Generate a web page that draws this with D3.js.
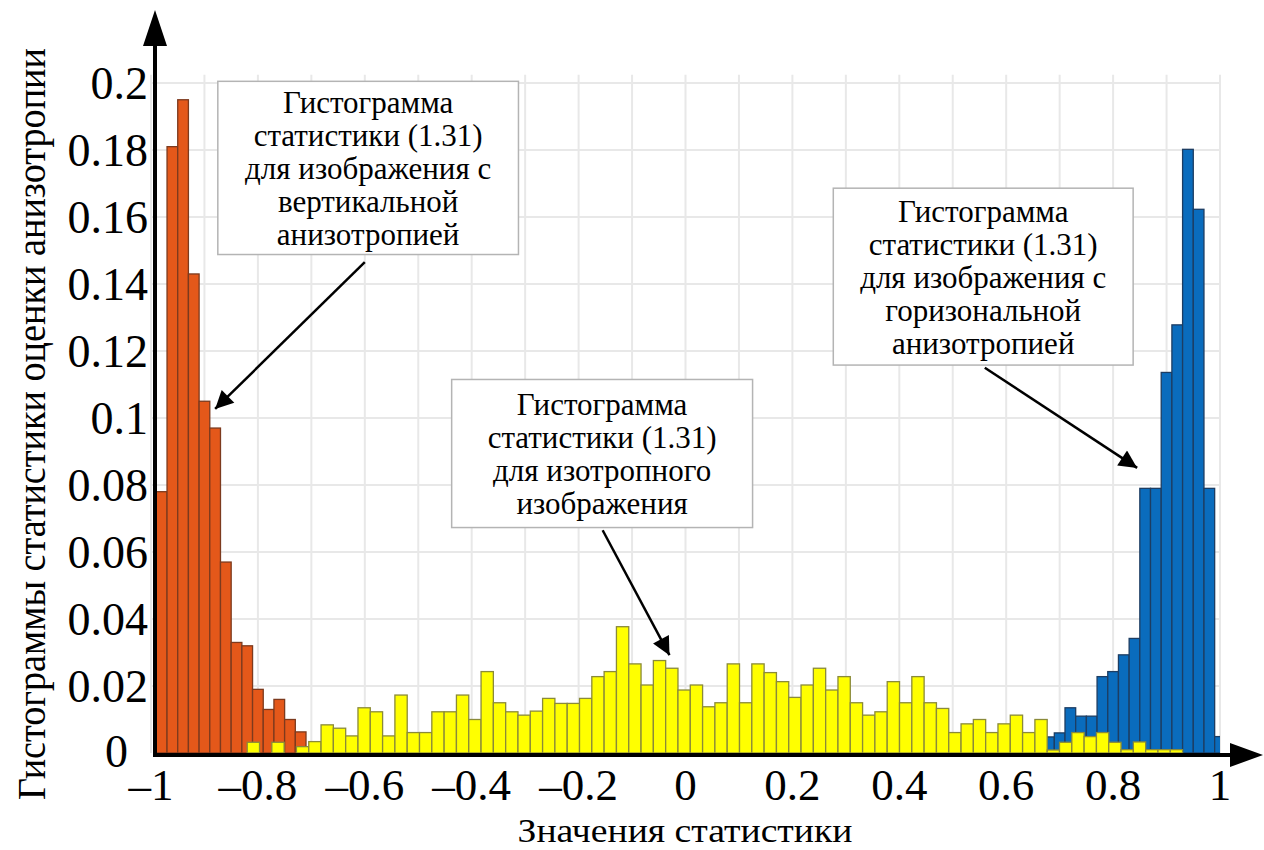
<!DOCTYPE html>
<html lang="ru">
<head>
<meta charset="utf-8">
<script src="https://cdn.jsdelivr.net/npm/d3@7"></script>
<style>
  html, body { margin: 0; padding: 0; background: #fff; }
  svg { display: block; }
  text { font-family: "Liberation Serif", "Times New Roman", serif; fill: #000; }
</style>
</head>
<body>
<svg id="chart" width="1264" height="850"></svg>
<script>
// ---- data ----
const xTicks = [-1, -0.8, -0.6, -0.4, -0.2, 0, 0.2, 0.4, 0.6, 0.8, 1];
const yTicks = [0, 0.02, 0.04, 0.06, 0.08, 0.1, 0.12, 0.14, 0.16, 0.18, 0.2];

// vertical anisotropy histogram (bins of 0.02 starting at -0.99)
const verticalStart = -0.99;
const verticalWidth = 0.02;
const verticalValues = [0.078, 0.181, 0.195, 0.143, 0.105, 0.097, 0.057, 0.033,
  0.032, 0.019, 0.013, 0.016, 0.010, 0.0063];

// horizontal anisotropy histogram (bins of 0.02 starting at 0.67)
const horizontalStart = 0.67;
const horizontalWidth = 0.02;
const horizontalValues = [0.0048, 0.006, 0.0135, 0.011, 0.011, 0.0228, 0.0243,
  0.0293, 0.0342, 0.079, 0.079, 0.1136, 0.1278, 0.1802, 0.1623, 0.079, 0.0049];

// isotropic image histogram (76 bins over [-0.82, 0.93])
const isotropicStart = -0.82;
const isotropicWidth = 1.75 / 76;
const isotropicValues = [0.0032, 0, 0.0032, 0, 0.0019, 0.0034, 0.0084, 0.0074,
  0.0051, 0.0135, 0.0123, 0.0051, 0.0173, 0.0061, 0.0061, 0.0123, 0.0123, 0.0173,
  0.0100, 0.0243, 0.0150, 0.0123, 0.0113, 0.0125, 0.0163, 0.0148, 0.0148, 0.0163,
  0.0228, 0.0243, 0.0377, 0.0266, 0.0203, 0.0276, 0.0253, 0.0188, 0.0203, 0.0138,
  0.0150, 0.0266, 0.0150, 0.0266, 0.0240, 0.0213, 0.0166, 0.0203, 0.0253, 0.0188,
  0.0228, 0.0150, 0.0113, 0.0123, 0.0213, 0.0150, 0.0228, 0.0150, 0.0133, 0.0061,
  0.0087, 0.0100, 0.0061, 0.0087, 0.0113, 0.0061, 0.0100, 0.0009, 0.0032, 0.0061,
  0.0049, 0.0061, 0.0032, 0.0010, 0.0033, 0.0010, 0.0010, 0.0010];

const xTitle = "Значения статистики";
const yTitle = "Гистограммы статистики оценки анизотропии";

const notes = [
  { lines: ["Гистограмма", "статистики (1.31)", "для изображения с", "вертикальной", "анизотропией"],
    box: [-0.875, 0.2005, -0.3125, 0.1488], from: [-0.6, 0.1465], to: [-0.88, 0.1027] },
  { lines: ["Гистограмма", "статистики (1.31)", "для изотропного", "изображения"],
    box: [-0.4375, 0.1115, 0.1255, 0.0673], from: [-0.155, 0.0665], to: [-0.03, 0.0292] },
  { lines: ["Гистограмма", "статистики (1.31)", "для изображения с", "горизональной", "анизотропией"],
    box: [0.2765, 0.1686, 0.8375, 0.1158], from: [0.56, 0.115], to: [0.845, 0.0851] }
];

// ---- layout ----
const svg = d3.select("#chart");
const x = d3.scaleLinear().domain([-1, 1]).range([151, 1220]);
const y = d3.scaleLinear().domain([0, 0.2]).range([753, 83]);

const defs = svg.append("defs");
defs.append("clipPath").attr("id", "plot-clip")
  .append("rect")
  .attr("x", x(-1)).attr("y", 0)
  .attr("width", x(1) - x(-1)).attr("height", y(0));

defs.append("marker")
  .attr("id", "note-arrow")
  .attr("viewBox", "0 0 10 10")
  .attr("refX", 10).attr("refY", 5)
  .attr("markerWidth", 26).attr("markerHeight", 18)
  .attr("markerUnits", "userSpaceOnUse")
  .attr("orient", "auto")
  .append("path").attr("d", "M0,0 L10,5 L0,10 Z").attr("fill", "#000");

// grid
const grid = svg.append("g").attr("class", "grid");
grid.selectAll("line.gx")
  .data(d3.range(-10, 11).map(i => i / 10))
  .join("line")
  .attr("x1", d => x(d)).attr("x2", d => x(d))
  .attr("y1", y(0.2025)).attr("y2", y(0))
  .attr("stroke", "#e8e8e8").attr("stroke-width", 2);
grid.selectAll("line.gy")
  .data(yTicks.slice(1))
  .join("line")
  .attr("x1", x(-1)).attr("x2", x(1))
  .attr("y1", d => y(d)).attr("y2", d => y(d))
  .attr("stroke", "#e8e8e8").attr("stroke-width", 2);

// histogram bars
function drawBars(cls, start, width, values, fill, stroke) {
  const bins = values.map((v, i) => ({ x0: start + i * width, x1: start + (i + 1) * width, v }))
    .filter(d => d.v > 0);
  svg.append("g").attr("class", cls).attr("clip-path", "url(#plot-clip)")
    .selectAll("rect")
    .data(bins)
    .join("rect")
    .attr("x", d => x(d.x0))
    .attr("width", d => x(d.x1) - x(d.x0))
    .attr("y", d => y(d.v))
    .attr("height", d => y(0) - y(d.v))
    .attr("fill", fill)
    .attr("stroke", stroke)
    .attr("stroke-width", 1.3);
}
drawBars("vertical", verticalStart, verticalWidth, verticalValues, "#e4581a", "#7c3a1e");
drawBars("horizontal", horizontalStart, horizontalWidth, horizontalValues, "#0a6cbd", "#1d3d62");
drawBars("isotropic", isotropicStart, isotropicWidth, isotropicValues, "#ffff00", "#8a8a3a");

// axes with arrow heads
const axes = svg.append("g").attr("class", "axes");
axes.append("line")
  .attr("x1", 155).attr("x2", 155).attr("y1", 757).attr("y2", 40)
  .attr("stroke", "#000").attr("stroke-width", 4);
axes.append("path")
  .attr("d", `M155,10 L167,46 L143,46 Z`).attr("fill", "#000");
axes.append("line")
  .attr("x1", 153).attr("x2", 1236).attr("y1", 755).attr("y2", 755)
  .attr("stroke", "#000").attr("stroke-width", 4);
axes.append("path")
  .attr("d", `M1263,755 L1230,743 L1230,767 Z`).attr("fill", "#000");

// tick labels
const fmt = d => (d < 0 ? "\u2013" : "") + String(Math.abs(d));
axes.selectAll("text.xt")
  .data(xTicks)
  .join("text")
  .attr("class", "xt")
  .attr("x", d => x(d))
  .attr("y", 800)
  .attr("text-anchor", "middle")
  .attr("font-size", 45)
  .text(fmt);
axes.selectAll("text.yt")
  .data(yTicks.slice(1))
  .join("text")
  .attr("class", "yt")
  .attr("x", 148)
  .attr("y", d => y(d) + 16)
  .attr("text-anchor", "end")
  .attr("font-size", 46)
  .text(d => String(d));
axes.append("text")
  .attr("x", 128).attr("y", y(0) + 14)
  .attr("text-anchor", "end")
  .attr("font-size", 46)
  .text("0");

// axis titles
svg.append("text")
  .attr("x", 685).attr("y", 842)
  .attr("text-anchor", "middle")
  .attr("font-size", 34)
  .attr("textLength", 335)
  .attr("lengthAdjust", "spacingAndGlyphs")
  .text(xTitle);
svg.append("text")
  .attr("transform", "translate(45,424) rotate(-90)")
  .attr("text-anchor", "middle")
  .attr("font-size", 40)
  .attr("textLength", 752)
  .attr("lengthAdjust", "spacingAndGlyphs")
  .text(yTitle);

// annotation boxes and arrows
const noteG = svg.append("g").attr("class", "notes");
notes.forEach(n => {
  const [bx0, by0, bx1, by1] = n.box;
  const left = x(bx0), right = x(bx1), top = y(by0), bottom = y(by1);
  noteG.append("line")
    .attr("x1", x(n.from[0])).attr("y1", y(n.from[1]))
    .attr("x2", x(n.to[0])).attr("y2", y(n.to[1]))
    .attr("stroke", "#000").attr("stroke-width", 2.5)
    .attr("marker-end", "url(#note-arrow)");
  noteG.append("rect")
    .attr("x", left).attr("y", top)
    .attr("width", right - left).attr("height", bottom - top)
    .attr("fill", "#fff").attr("stroke", "#b4b4b4").attr("stroke-width", 1.5);
  const cx = (left + right) / 2;
  const lh = 33;
  const firstY = (top + bottom) / 2 - (n.lines.length - 1) * lh / 2;
  noteG.append("text")
    .attr("text-anchor", "middle")
    .attr("font-size", 31)
    .selectAll("tspan")
    .data(n.lines)
    .join("tspan")
    .attr("x", cx)
    .attr("y", (d, i) => firstY + i * lh + 11)
    .text(d => d);
});
</script>
</body>
</html>
